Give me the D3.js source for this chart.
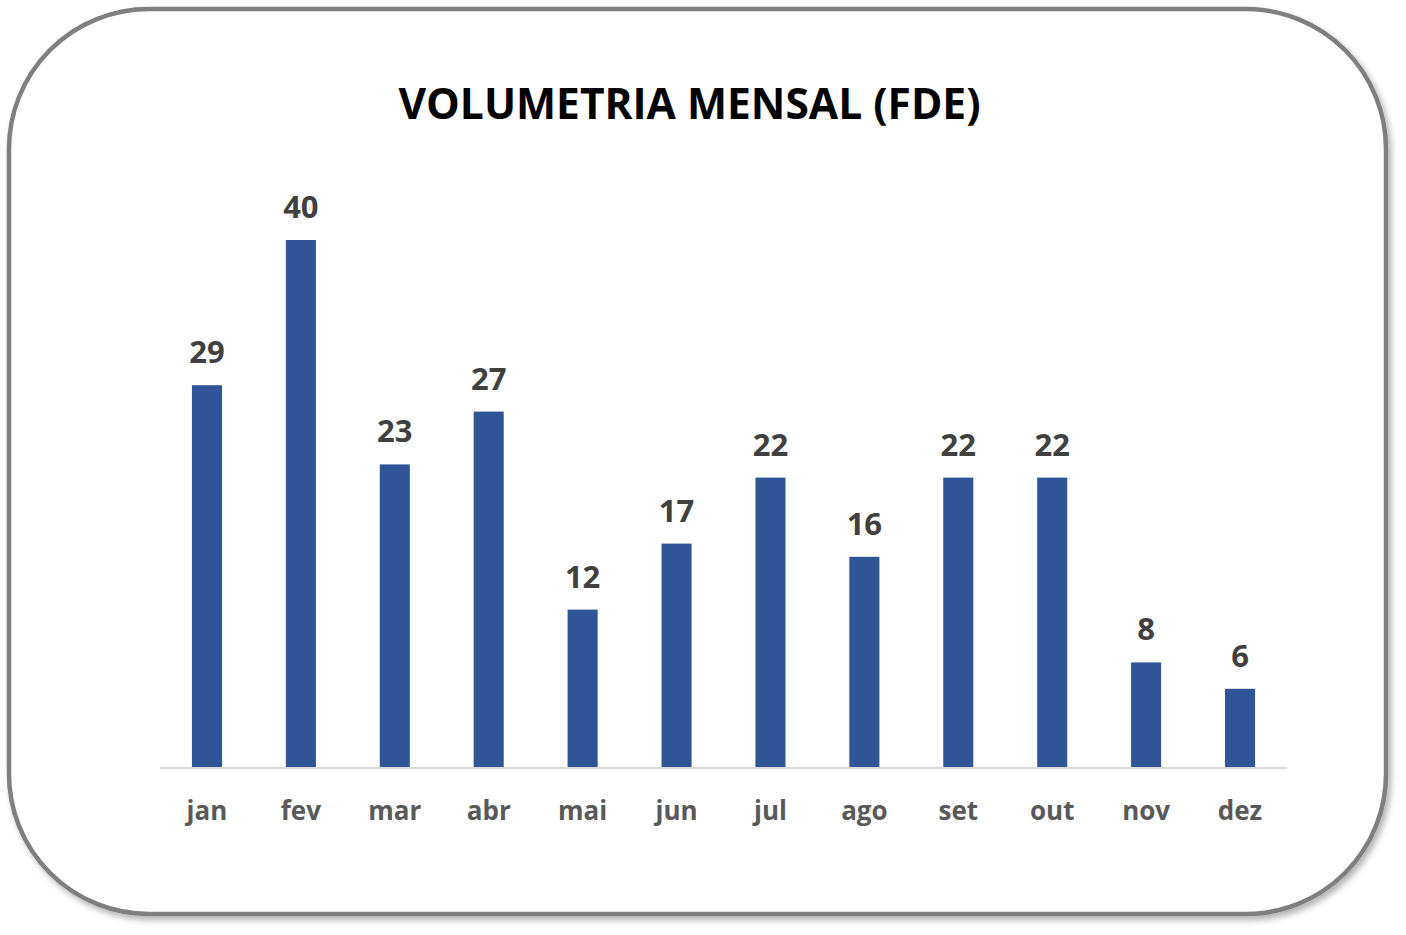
<!DOCTYPE html>
<html>
<head>
<meta charset="utf-8">
<script src="https://cdn.jsdelivr.net/npm/d3@7"></script>
<style>
html,body{margin:0;padding:0;background:#fff;}
svg{display:block;}
</style>
</head>
<body>
<script>
const months = ["jan","fev","mar","abr","mai","jun","jul","ago","set","out","nov","dez"];
const values = [29,40,23,27,12,17,22,16,22,22,8,6];
const titleText = "VOLUMETRIA MENSAL (FDE)";

const W = 1406, H = 935;
const svg = d3.select("body").append("svg").attr("width", W).attr("height", H);

const defs = svg.append("defs");
const f = defs.append("filter").attr("id","shadow").attr("x","-5%").attr("y","-5%").attr("width","110%").attr("height","110%");
f.append("feDropShadow").attr("dx",3).attr("dy",4).attr("stdDeviation",3).attr("flood-color","#000").attr("flood-opacity",0.3);

svg.append("rect")
  .attr("x",9).attr("y",9).attr("width",1377).attr("height",905)
  .attr("rx",140).attr("ry",140)
  .attr("fill","#fff").attr("stroke","#7f7f7f").attr("stroke-width",4.5)
  .attr("filter","url(#shadow)");

const x = d3.scaleBand().domain(months).range([160,1287]).paddingInner(0.68).paddingOuter(0.34);
const y = d3.scaleLinear().domain([0,40]).range([768,240]);

svg.append("text")
  .attr("x",689.5).attr("y",119)
  .attr("text-anchor","middle")
  .attr("font-family","Open Sans")
  .attr("font-weight","bold")
  .attr("font-size",42.5)
  .attr("fill","#000")
  .text(titleText);

svg.selectAll("rect.bar").data(values).enter().append("rect")
  .attr("class","bar")
  .attr("x",(d,i)=>x(months[i]))
  .attr("width",x.bandwidth())
  .attr("y",d=>y(d))
  .attr("height",d=>y(0)-y(d))
  .attr("fill","#2f5597");

const axis = d3.axisBottom(x).tickSize(0).tickPadding(0);
const g = svg.append("g").attr("transform","translate(0,768)").call(axis);
g.select(".domain").attr("stroke","#d9d9d9").attr("stroke-width",2).attr("d","M160,0H1287");
g.selectAll(".tick text")
  .attr("dy",0).attr("y",52)
  .attr("font-family","Open Sans").attr("font-weight","bold").attr("font-size",26)
  .attr("fill","#595959");

svg.selectAll("text.val").data(values).enter().append("text")
  .attr("class","val")
  .attr("x",(d,i)=>x(months[i])+x.bandwidth()/2)
  .attr("y",d=>y(d)-22)
  .attr("text-anchor","middle")
  .attr("font-family","Open Sans").attr("font-weight","bold").attr("font-size",31)
  .attr("fill","#404040")
  .text(d=>d);
</script>
</body>
</html>
